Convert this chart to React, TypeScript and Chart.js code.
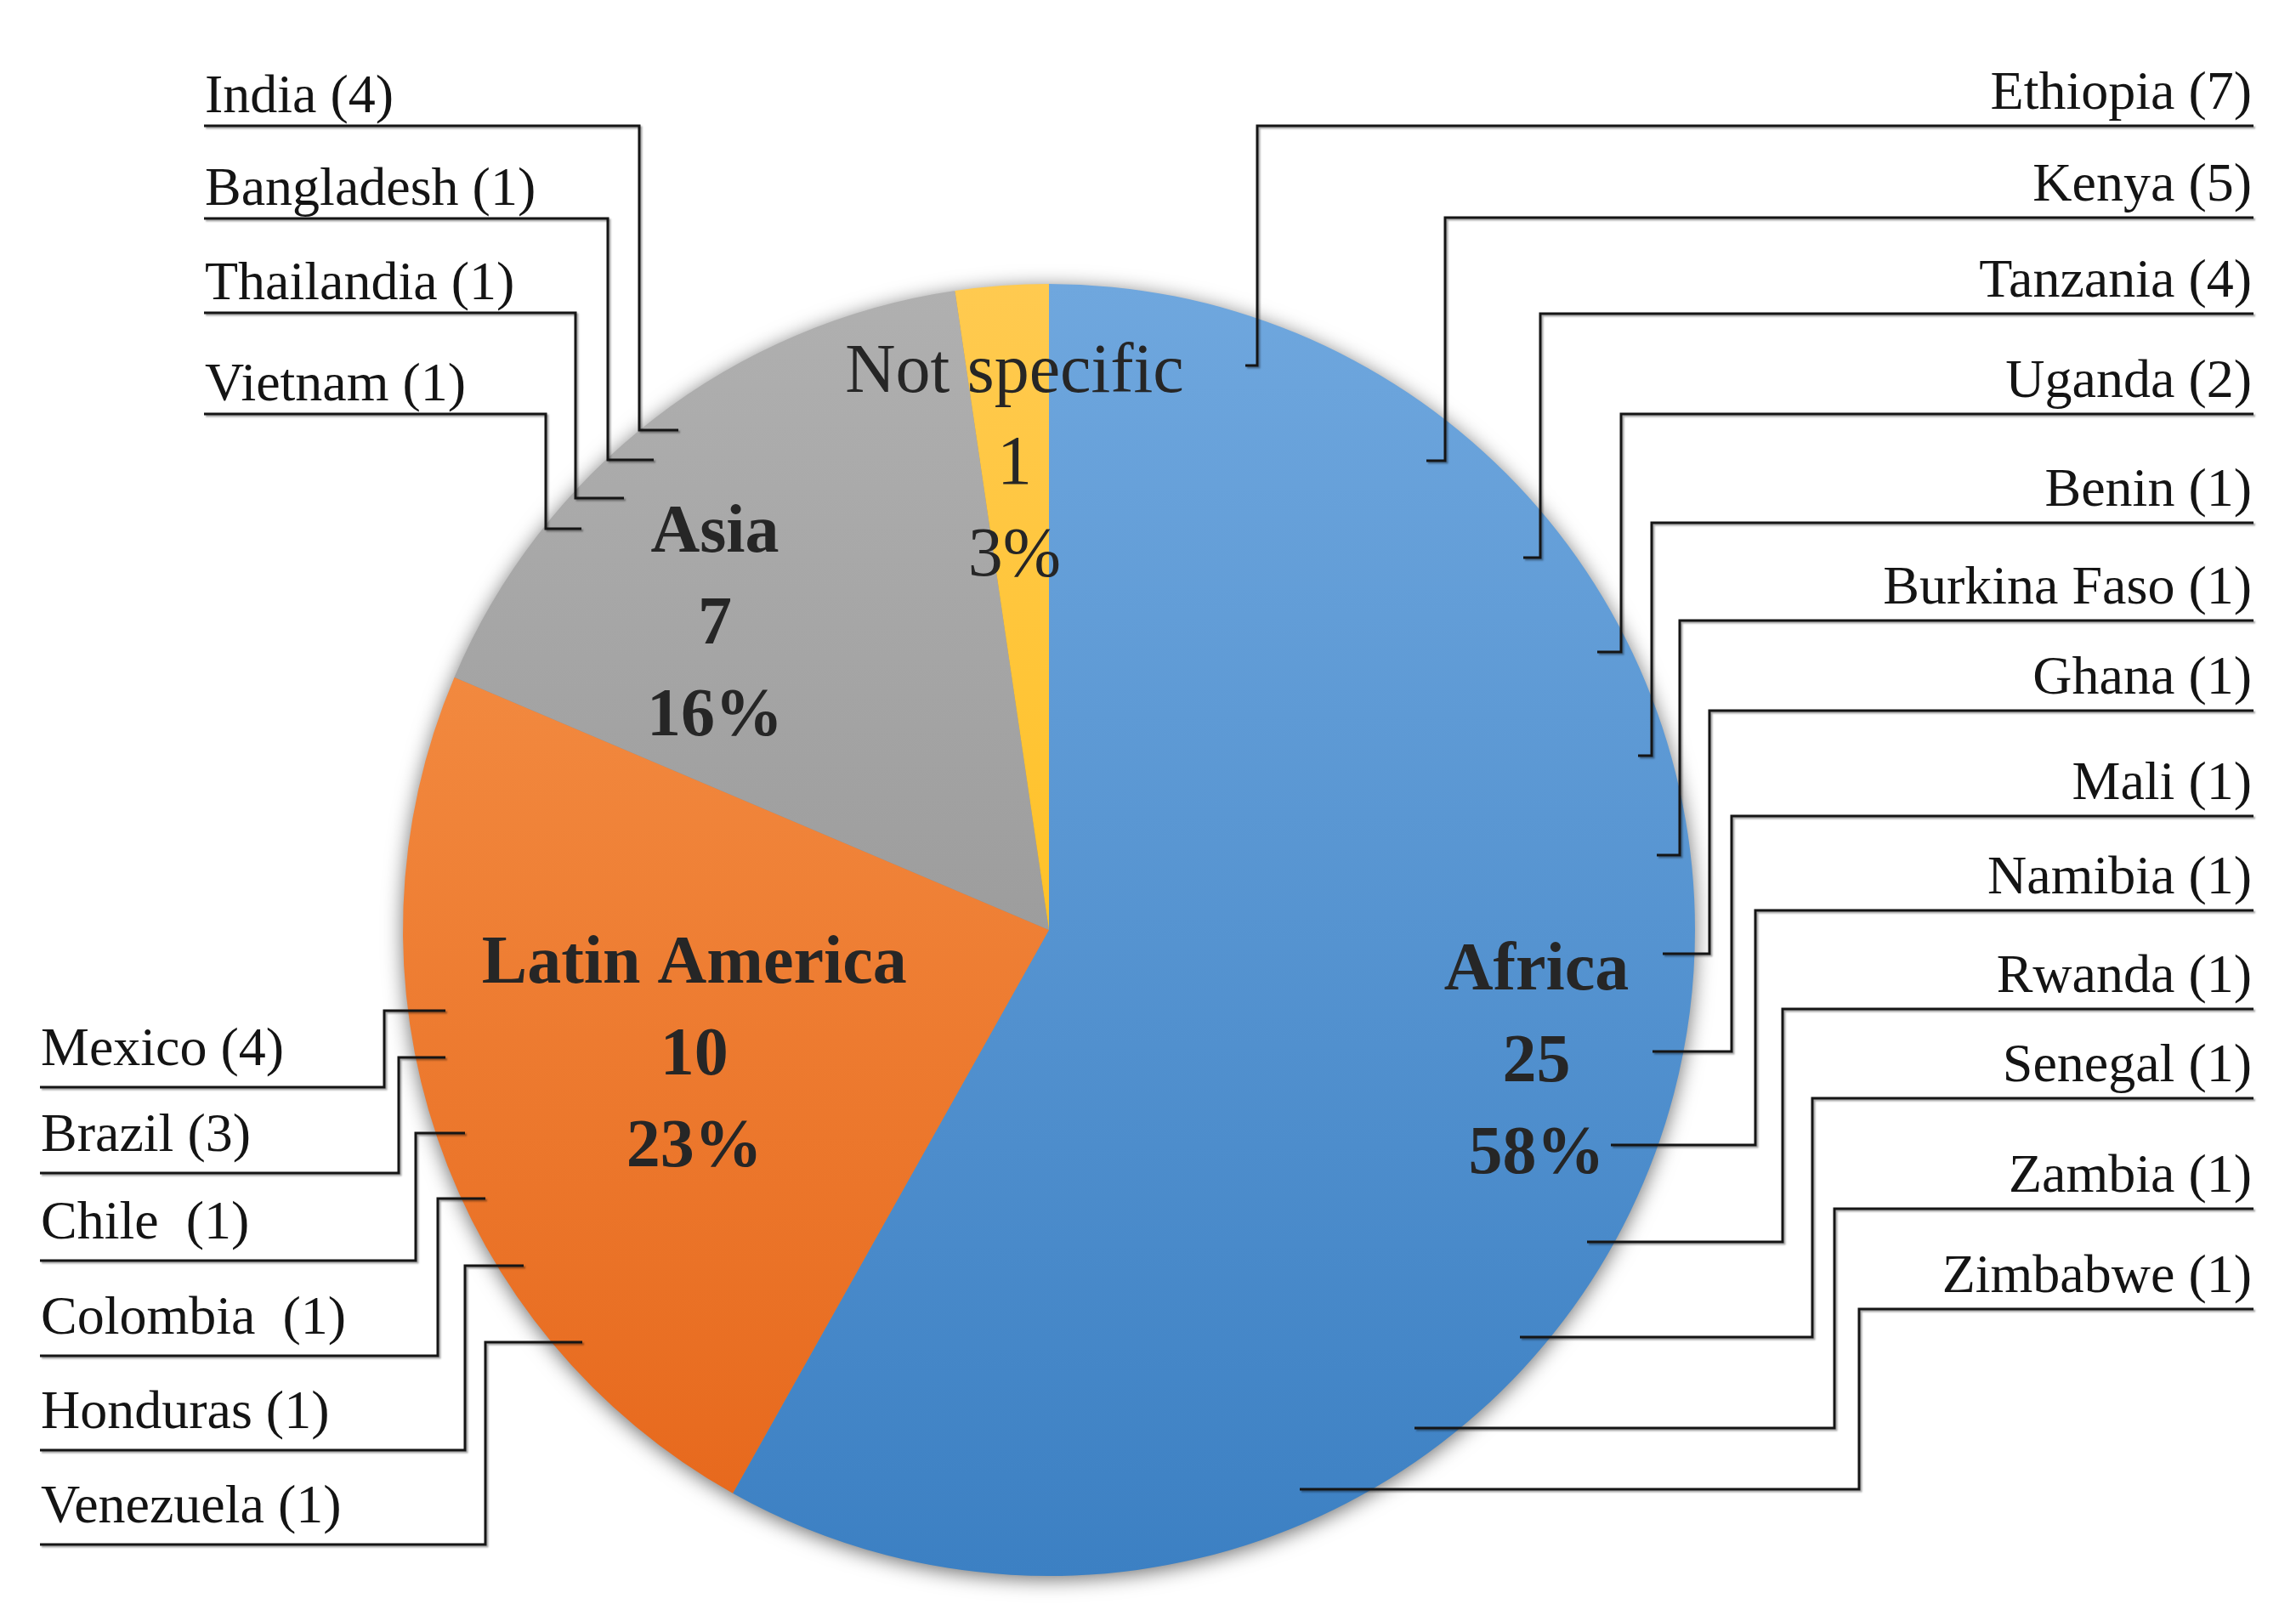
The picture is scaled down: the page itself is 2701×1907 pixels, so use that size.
import React, { useEffect, useRef } from "react";
import { Chart, registerables } from "chart.js";

Chart.register(...registerables);

// ---------- data ----------
const categories = ["Africa", "Latin America", "Asia", "Not specific"];
const categoryCounts = [25, 10, 7, 1];
const categoryPercentLabels = ["58%", "23%", "16%", "3%"];

const africaCountries = [
  "Ethiopia", "Kenya", "Tanzania", "Uganda", "Benin", "Burkina Faso", "Ghana",
  "Mali", "Namibia", "Rwanda", "Senegal", "Zambia", "Zimbabwe",
];
const africaCounts = [7, 5, 4, 2, 1, 1, 1, 1, 1, 1, 1, 1, 1];

const asiaCountries = ["India", "Bangladesh", "Thailandia", "Vietnam"];
const asiaCounts = [4, 1, 1, 1];

const latinCountries = ["Mexico", "Brazil", "Chile ", "Colombia ", "Honduras", "Venezuela"];
const latinCounts = [4, 3, 1, 1, 1, 1];

// ---------- layout (pixels / fractions, not data) ----------
const topColors = ["#6FA7DE", "#F7984F", "#B0B0B0", "#FFCA50"];
const bottomColors = ["#3C80C3", "#E6661A", "#8A8A8A", "#FFBA00"];
const labelRadiusFrac = [0.78, 0.58, 0.705, 0.73];
const labelAngleShiftDeg = [0, 0, -9.5, 0];
const labelBold = [true, true, true, false];
const labelFontPx = [80, 80, 80, 82];
const labelLineGap = 108;
const labelYShift = 7;

// callouts: [underlineY, verticalX, endY, endX]
const africaLayout = [
  [148, 1479, 430, 1465],
  [256, 1700, 542, 1678],
  [369, 1812, 656, 1792],
  [487, 1907, 767, 1879],
  [615, 1943, 889, 1927],
  [730, 1976, 1006, 1949],
  [836, 2011, 1122, 1956],
  [960, 2037, 1237, 1944],
  [1071, 2065, 1347, 1895],
  [1187, 2097, 1461, 1867],
  [1292, 2132, 1573, 1788],
  [1422, 2158, 1680, 1664],
  [1540, 2187, 1752, 1529],
];
const rightEdgeX = 2651;
const africaTextLift = 20;

const asiaLayout = [
  [148, 752, 506, 798],
  [257, 715, 541, 769],
  [368, 677, 586, 734],
  [487, 642, 622, 684],
];
const asiaLeftX = 240;
const asiaTextLift = 16;

const latinLayout = [
  [1279, 452, 1189, 524],
  [1380, 469, 1244, 524],
  [1483, 489, 1333, 547],
  [1595, 515, 1410, 571],
  [1706, 547, 1489, 616],
  [1817, 571, 1579, 685],
];
const latinLeftX = 47;
const latinTextLift = 26;

const calloutFont = '64px "Liberation Serif", "DejaVu Serif", serif';

export default function App() {
  const canvasRef = useRef<HTMLCanvasElement | null>(null);

  useEffect(() => {
    const canvas = canvasRef.current;
    if (!canvas) return;

    const gradCache: Record<string, CanvasGradient> = {};
    const makeGradient = (chart: any, i: number) => {
      const area = chart.chartArea;
      if (!area) return topColors[i];
      const key = `${i}-${area.top}-${area.bottom}`;
      if (!gradCache[key]) {
        const g = chart.ctx.createLinearGradient(0, area.top, 0, area.bottom);
        g.addColorStop(0, topColors[i]);
        g.addColorStop(1, bottomColors[i]);
        gradCache[key] = g;
      }
      return gradCache[key];
    };

    const shadowPlugin = {
      id: "pieShadow",
      beforeDatasetsDraw(chart: any) {
        const meta = chart.getDatasetMeta(0);
        const arc = meta.data[0];
        if (!arc) return;
        const ctx = chart.ctx;
        ctx.save();
        ctx.shadowColor = "rgba(0,0,0,0.6)";
        ctx.shadowBlur = 24;
        ctx.shadowOffsetX = 0;
        ctx.shadowOffsetY = 4;
        ctx.fillStyle = "#888";
        ctx.beginPath();
        ctx.arc(arc.x, arc.y, arc.outerRadius - 1, 0, Math.PI * 2);
        ctx.fill();
        ctx.restore();
      },
    };

    const drawCallout = (
      ctx: CanvasRenderingContext2D,
      text: string,
      side: "L" | "R",
      outerX: number,
      lift: number,
      lay: number[]
    ) => {
      const [uy, vx, ey, ex] = lay;
      ctx.save();
      ctx.font = calloutFont;
      ctx.fillStyle = "#141414";
      ctx.textBaseline = "alphabetic";
      ctx.textAlign = side === "R" ? "right" : "left";
      ctx.fillText(text, side === "R" ? outerX - 2 : outerX + 1, uy - lift);
      ctx.strokeStyle = "#151515";
      ctx.lineWidth = 3;
      ctx.shadowColor = "rgba(0,0,0,0.35)";
      ctx.shadowBlur = 2;
      ctx.shadowOffsetX = 2;
      ctx.shadowOffsetY = 2;
      ctx.beginPath();
      ctx.moveTo(outerX, uy);
      ctx.lineTo(vx, uy);
      ctx.lineTo(vx, ey);
      ctx.lineTo(ex, ey);
      ctx.stroke();
      ctx.restore();
    };

    const labelPlugin = {
      id: "pieLabels",
      afterDatasetsDraw(chart: any) {
        const ctx = chart.ctx as CanvasRenderingContext2D;
        const meta = chart.getDatasetMeta(0);
        meta.data.forEach((arc: any, i: number) => {
          const mid =
            (arc.startAngle + arc.endAngle) / 2 + (labelAngleShiftDeg[i] * Math.PI) / 180;
          const r = arc.outerRadius * labelRadiusFrac[i];
          const cx = arc.x + Math.cos(mid) * r;
          const cy = arc.y + Math.sin(mid) * r + labelYShift;
          const lines = [categories[i], String(categoryCounts[i]), categoryPercentLabels[i]];
          ctx.save();
          ctx.font = `${labelBold[i] ? "bold " : ""}${labelFontPx[i]}px "Liberation Serif", "DejaVu Serif", serif`;
          ctx.fillStyle = "#262626";
          ctx.textAlign = "center";
          ctx.textBaseline = "middle";
          lines.forEach((t, k) => {
            ctx.fillText(t, cx, cy + (k - 1) * labelLineGap);
          });
          ctx.restore();
        });

        africaCountries.forEach((c, i) =>
          drawCallout(ctx, `${c} (${africaCounts[i]})`, "R", rightEdgeX, africaTextLift, africaLayout[i])
        );
        asiaCountries.forEach((c, i) =>
          drawCallout(ctx, `${c} (${asiaCounts[i]})`, "L", asiaLeftX, asiaTextLift, asiaLayout[i])
        );
        latinCountries.forEach((c, i) =>
          drawCallout(ctx, `${c} (${latinCounts[i]})`, "L", latinLeftX, latinTextLift, latinLayout[i])
        );
      },
    };

    const chart = new Chart(canvas, {
      type: "pie",
      data: {
        labels: categories,
        datasets: [
          {
            data: categoryCounts,
            backgroundColor: (c: any) => makeGradient(c.chart, c.dataIndex),
            borderWidth: 0,
            hoverOffset: 0,
            offset: 0,
          },
        ],
      },
      options: {
        responsive: false,
        animation: false,
        devicePixelRatio: 1,
        rotation: 0,
        layout: { padding: { left: 474, right: 707, top: 334, bottom: 53 } },
        plugins: {
          legend: { display: false },
          tooltip: { enabled: false },
        },
        events: [],
      },
      plugins: [shadowPlugin, labelPlugin],
    } as any);

    return () => chart.destroy();
  }, []);

  return (
    <div style={{ position: "fixed", left: 0, top: 0, width: 2701, height: 1907, background: "#fff" }}>
      <canvas ref={canvasRef} width={2701} height={1907} style={{ width: 2701, height: 1907, display: "block" }} />
    </div>
  );
}
